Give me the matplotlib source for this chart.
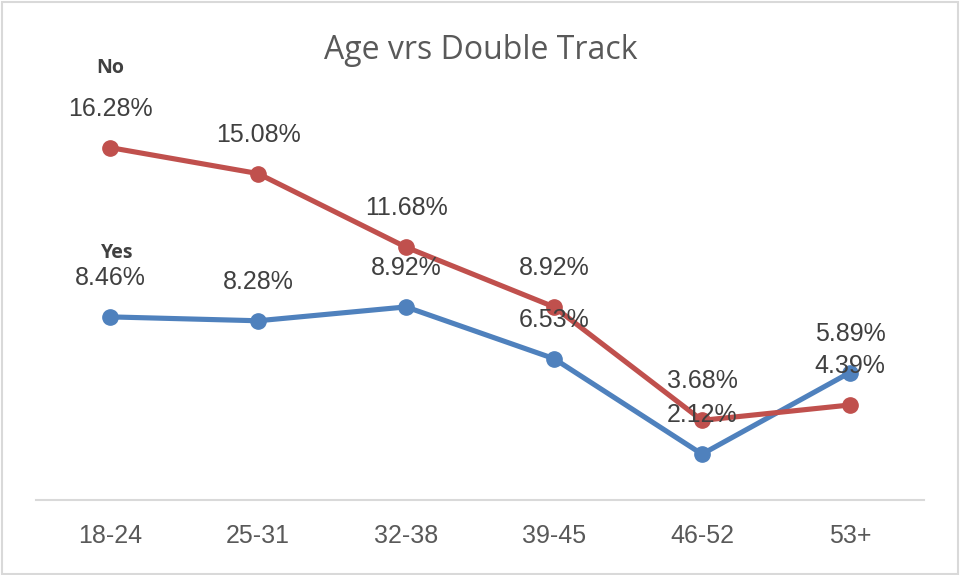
import matplotlib.pyplot as plt
from matplotlib.patches import Rectangle

categories = ['18-24', '25-31', '32-38', '39-45', '46-52', '53+']
no_values = [16.28, 15.08, 11.68, 8.92, 3.68, 4.39]
yes_values = [8.46, 8.28, 8.92, 6.53, 2.12, 5.89]

red = '#C0504D'
blue = '#4F81BD'
label_color = '#404040'

fig = plt.figure(figsize=(9.61, 5.75), dpi=100)
ax = fig.add_axes([0.0375, 0.1304, 0.924, 0.753])

x = list(range(len(categories)))
ax.plot(x, yes_values, color=blue, lw=3.7, marker='o', markersize=11, solid_capstyle='round')
ax.plot(x, no_values, color=red, lw=3.7, marker='o', markersize=11, solid_capstyle='round')

for values in (no_values, yes_values):
    for xi, v in zip(x, values):
        ax.annotate(f'{v:.2f}%', (xi, v), xytext=(0, 28), textcoords='offset points',
                    ha='center', va='center', fontsize=18, color=label_color,
                    family='Liberation Sans')

# series names above the first labels
ax.annotate('No', (0, no_values[0]), xytext=(0, 57), textcoords='offset points',
            ha='center', va='center', fontsize=14, fontweight='bold', color=label_color,
            family='Open Sans')
ax.annotate('Yes', (0, yes_values[0]), xytext=(5, 46), textcoords='offset points',
            ha='center', va='center', fontsize=14, fontweight='bold', color=label_color,
            family='Open Sans')

ax.set_xlim(-0.5, 5.5)
ax.set_ylim(0, 20)
ax.set_xticks(x)
ax.set_xticklabels(categories, fontsize=18, color='#595959', family='Liberation Sans')
ax.tick_params(axis='x', length=0, pad=17)
ax.set_yticks([])
for side in ('left', 'right', 'top'):
    ax.spines[side].set_visible(False)
ax.spines['bottom'].set_color('#D9D9D9')
ax.spines['bottom'].set_linewidth(1.5)

fig.text(0.5, 0.913, 'Age vrs Double Track', ha='center', va='center',
         fontsize=23, color='#595959', family='Open Sans')

fig.patches.append(Rectangle((0.002, 0.002), 0.995, 0.995, transform=fig.transFigure,
                             fill=False, edgecolor='#D9D9D9', lw=1.5))

fig.savefig('out.png', dpi=100)
